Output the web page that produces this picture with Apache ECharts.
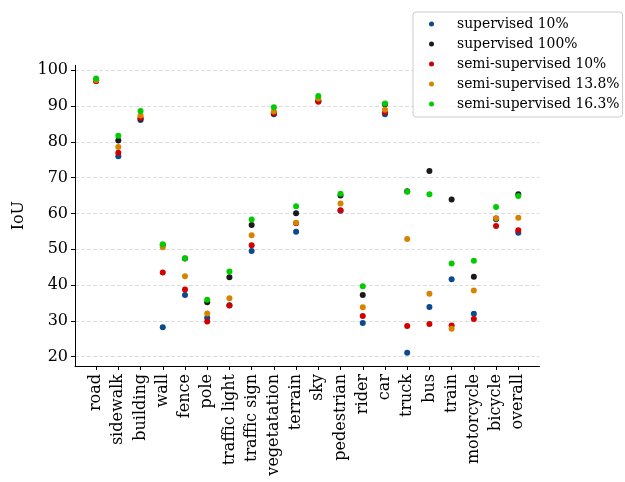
<!DOCTYPE html>
<html>
<head>
<meta charset="utf-8">
<script src="https://cdn.jsdelivr.net/npm/echarts@6/dist/echarts.min.js"></script>
<style>html,body{margin:0;padding:0;background:#fff}#c{width:625px;height:482px}</style>
</head>
<body>
<div id="c"></div>
<script>
var categories = ['road','sidewalk','building','wall','fence','pole','traffic light','traffic sign','vegetatation','terrain','sky','pedestrian','rider','car','truck','bus','train','motorcycle','bicycle','overall'];
var yTicks = [20,30,40,50,60,70,80,90,100];
var supervised10 =  [97.0,76.0,86.1,28.2,37.2,30.9,34.4,49.5,87.7,54.9,91.4,60.8,29.4,87.7,21.1,33.9,41.6,32.0,58.4,54.6];
var supervised100 = [97.2,80.4,86.5,51.2,47.4,35.2,42.2,56.8,88.0,60.1,91.5,65.0,37.2,90.5,66.2,71.9,63.9,42.3,58.6,65.4];
var semi10 =        [97.0,77.0,86.7,43.5,38.8,29.8,34.3,51.1,88.1,57.3,91.2,60.9,31.4,88.3,28.6,29.1,28.7,30.5,56.5,55.3];
var semi138 =       [97.3,78.6,87.4,50.6,42.5,32.1,36.3,53.9,88.5,57.4,92.1,62.8,33.8,89.0,52.9,37.6,27.8,38.5,58.7,58.8];
var semi163 =       [97.7,81.7,88.6,51.4,47.5,35.9,43.8,58.3,89.7,62.0,92.8,65.5,39.7,90.7,66.1,65.4,46.0,46.8,61.8,64.9];

var seriesDefs = [
  {name:'supervised 10%', data:supervised10, color:'#0b4a8c'},
  {name:'supervised 100%', data:supervised100, color:'#1a1a1a'},
  {name:'semi-supervised 10%', data:semi10, color:'#d10000'},
  {name:'semi-supervised 13.8%', data:semi138, color:'#d88300'},
  {name:'semi-supervised 16.3%', data:semi163, color:'#00cc00'}
];
var xIdx = categories.map(function(c,i){return i;});
var font = 'DejaVu Serif';
var chart = echarts.init(document.getElementById('c'), null, {renderer:'canvas'});
chart.setOption({
  animation:false,
  backgroundColor:'#fff',
  grid:{left:75, right:85.6, top:65.3, bottom:116, containLabel:false},
  legend:{
    left:413, top:12, orient:'vertical',
    icon:'circle', itemWidth:5, itemHeight:5, itemGap:6,
    padding:[5,3,6,16],
    borderColor:'#cccccc', borderWidth:1, borderRadius:3,
    backgroundColor:'rgba(255,255,255,0.8)',
    textStyle:{fontFamily:font, fontSize:13.9, color:'#000', lineHeight:14, padding:[0,0,0,18]},
    data:seriesDefs.map(function(s){return s.name;})
  },
  xAxis:{
    type:'value', min:-0.95, max:19.95,
    axisLine:{show:true, onZero:false, lineStyle:{color:'#000', width:1}},
    axisTick:{show:true, length:4, customValues:xIdx, lineStyle:{color:'#000'}},
    splitLine:{show:false},
    axisLabel:{customValues:xIdx, rotate:90, margin:8, fontFamily:font, fontSize:16, color:'#000',
      formatter:function(v){return categories[Math.round(v)];}}
  },
  yAxis:{
    type:'value', min:17.4, max:101.4,
    name:'IoU', nameLocation:'middle', nameGap:47, nameRotate:90,
    nameTextStyle:{fontFamily:font, fontSize:16, color:'#000'},
    axisLine:{show:true, onZero:false, lineStyle:{color:'#000', width:1}},
    axisTick:{show:true, length:4, customValues:yTicks, lineStyle:{color:'#000'}},
    axisLabel:{customValues:yTicks, margin:7, fontFamily:font, fontSize:16, color:'#000'},
    splitLine:{show:true, lineStyle:{color:'#dddddd', type:[4,2], width:1}}
  },
  series:seriesDefs.map(function(s){
    return {
      name:s.name, type:'scatter', symbol:'circle', symbolSize:6,
      itemStyle:{color:s.color, opacity:1},
      data:s.data.map(function(v,i){return [i,v];})
    };
  })
});
</script>
</body>
</html>
